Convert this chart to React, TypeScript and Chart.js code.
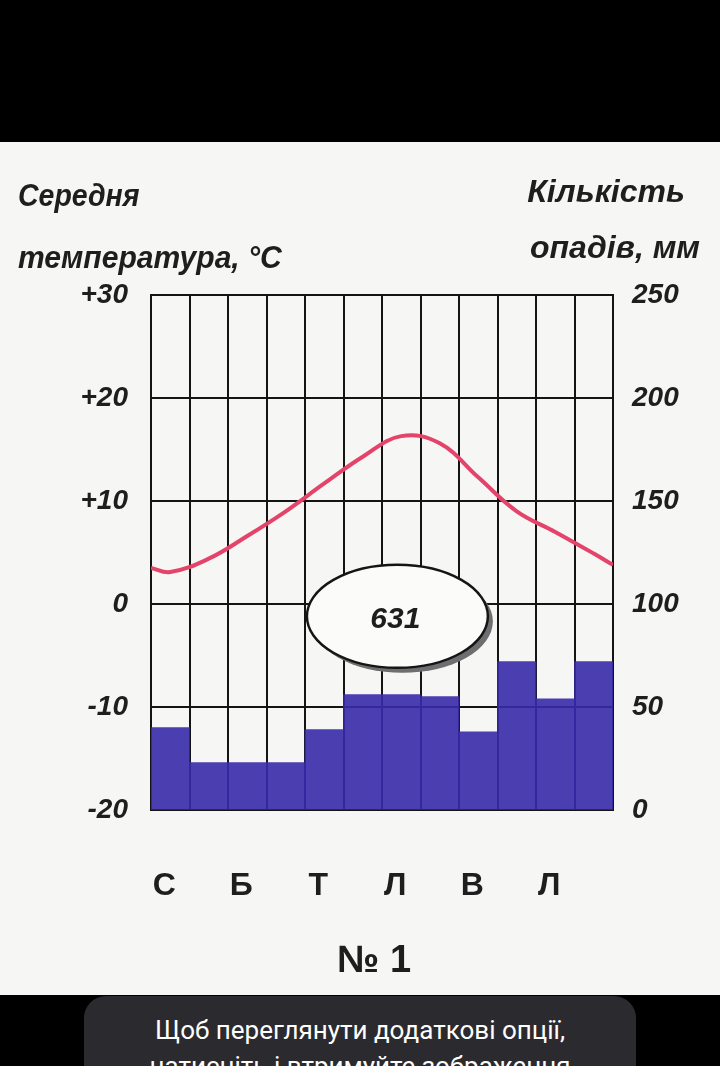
import React, { useEffect, useRef } from "react";
import { Chart, registerables } from "chart.js";

Chart.register(...registerables);

const months = ["С", "Л", "Б", "К", "Т", "Ч", "Л", "С", "В", "Ж", "Л", "Г"];
const precipitation = [40, 23, 23, 23, 39, 56, 56, 55, 38, 72, 54, 72];
const tempPositions = [0, 0.5, 1.5, 2.5, 3.5, 4.5, 5.5, 6.5, 7.5, 8.5, 9.5, 10.5, 11.5, 12];
const tempValues = [3.5, 3.1, 4.4, 6.6, 9.0, 11.7, 14.3, 16.3, 15.6, 12.3, 9.0, 7.0, 4.9, 3.8];
const tempTicks = [-20, -10, 0, 10, 20, 30];
const precipTicks = [0, 50, 100, 150, 200, 250];
const annualTotal = 631;

const FONT = "'Liberation Sans', 'DejaVu Sans', sans-serif";
const INK = "#1e1e1e";

const ellipsePlugin = {
  id: "totalEllipse",
  afterDatasetsDraw(chart: any) {
    const { ctx } = chart;
    const xs = chart.scales.x2;
    const ys = chart.scales.y;
    const cx = xs.getPixelForValue(6.4);
    const cy = ys.getPixelForValue(-1.2);
    const rx = xs.getPixelForValue(2.35) - xs.getPixelForValue(0);
    const ry = ys.getPixelForValue(0) - ys.getPixelForValue(5);
    ctx.save();
    ctx.beginPath();
    ctx.ellipse(cx + 5, cy + 5, rx, ry, 0, 0, Math.PI * 2);
    ctx.fillStyle = "#6e6e70";
    ctx.fill();
    ctx.beginPath();
    ctx.ellipse(cx, cy, rx, ry, 0, 0, Math.PI * 2);
    ctx.fillStyle = "#fbfbf9";
    ctx.fill();
    ctx.lineWidth = 2.5;
    ctx.strokeStyle = "#151515";
    ctx.stroke();
    ctx.fillStyle = INK;
    ctx.font = `italic bold 30px ${FONT}`;
    ctx.textAlign = "center";
    ctx.textBaseline = "middle";
    ctx.fillText(String(annualTotal), cx - 2, cy + 3);
    ctx.restore();
  },
};

export default function App() {
  const ref = useRef<HTMLCanvasElement>(null);

  useEffect(() => {
    if (!ref.current) return;
    const tickFont = { family: FONT, size: 28, weight: "bold" as const, style: "italic" as const };
    const chart = new Chart(ref.current, {
      type: "bar",
      data: {
        labels: months,
        datasets: [
          {
            type: "line" as any,
            label: "Температура",
            data: tempPositions.map((x, i) => ({ x, y: tempValues[i] })) as any,
            xAxisID: "x2",
            yAxisID: "y",
            borderColor: "#e4436a",
            borderWidth: 4,
            pointRadius: 0,
            tension: 0.4,
            order: 0,
          } as any,
          {
            type: "bar",
            label: "Опади",
            data: precipitation,
            xAxisID: "x",
            yAxisID: "y1",
            backgroundColor: "rgba(55, 42, 170, 0.9)",
            borderWidth: 0,
            barPercentage: 1,
            categoryPercentage: 1,
            grouped: false,
            order: 1,
          },
        ],
      },
      options: {
        responsive: false,
        animation: false,
        layout: { padding: { top: 153, left: 0, right: 0, bottom: 0 } },
        plugins: { legend: { display: false }, tooltip: { enabled: false } },
        scales: {
          x: {
            type: "category",
            offset: true,
            grid: { offset: true, color: "#141414", lineWidth: 2, drawTicks: false },
            border: { color: "#141414", width: 2 },
            ticks: {
              autoSkip: false,
              maxRotation: 0,
              callback: (_v: any, i: number) => (i % 2 === 0 ? months[i] : ""),
              font: { family: FONT, size: 32, weight: "bold" },
              color: INK,
              padding: 57,
              labelOffset: -6,
            },
            afterFit: (s: any) => {
              s.height = 185;
            },
          },
          x2: {
            type: "linear",
            min: 0,
            max: 12,
            offset: false,
            display: false,
            grid: { offset: false },
          },
          y: {
            position: "left",
            min: -20,
            max: 30,
            afterBuildTicks: (s: any) => {
              s.ticks = tempTicks.map((v) => ({ value: v }));
            },
            ticks: {
              callback: (v: any) => (Number(v) > 0 ? "+" + v : String(v)),
              font: tickFont,
              color: INK,
              padding: 23,
            },
            grid: { color: "#141414", lineWidth: 2, drawTicks: false },
            border: { color: "#141414", width: 2 },
            afterFit: (s: any) => {
              s.width = 151;
            },
          },
          y1: {
            position: "right",
            min: 0,
            max: 250,
            afterBuildTicks: (s: any) => {
              s.ticks = precipTicks.map((v) => ({ value: v }));
            },
            ticks: { font: tickFont, color: INK, padding: 19 },
            grid: { drawOnChartArea: false, drawTicks: false },
            border: { color: "#141414", width: 2 },
            afterFit: (s: any) => {
              s.width = 107;
            },
          },
        },
      } as any,
      plugins: [ellipsePlugin],
    });
    return () => chart.destroy();
  }, []);

  const title = (sx: number, origin: string): React.CSSProperties => ({
    position: "absolute",
    fontFamily: FONT,
    fontWeight: "bold",
    fontStyle: "italic",
    fontSize: 32,
    lineHeight: "36px",
    color: INK,
    whiteSpace: "nowrap",
    transform: `scaleX(${sx})`,
    transformOrigin: origin,
  });

  return (
    <div
      style={{
        position: "absolute",
        left: 0,
        top: 0,
        width: 720,
        height: 1066,
        overflow: "hidden",
        background: "#000",
      }}
    >
      <div
        style={{
          position: "absolute",
          left: 0,
          top: 142,
          width: 720,
          height: 853,
          background: "#f6f6f4",
        }}
      >
        <canvas ref={ref} width={720} height={853} style={{ width: 720, height: 853, display: "block" }} />
      </div>
      <div style={{ ...title(0.89, "left center"), left: 18, top: 177 }}>Середня</div>
      <div style={{ ...title(0.94, "left center"), left: 18, top: 239 }}>температура, °С</div>
      <div style={{ ...title(1, "right center"), right: 35, top: 173, textAlign: "right" }}>Кількість</div>
      <div style={{ ...title(1, "right center"), right: 20, top: 229, textAlign: "right" }}>опадів, мм</div>
      <div
        style={{
          position: "absolute",
          left: 0,
          width: 748,
          top: 937,
          textAlign: "center",
          fontFamily: FONT,
          fontWeight: "bold",
          fontSize: 38,
          lineHeight: "44px",
          color: INK,
        }}
      >
        № 1
      </div>
      <div
        style={{
          position: "absolute",
          left: 84,
          top: 996,
          width: 552,
          height: 120,
          borderRadius: 22,
          background: "#2b2b2f",
          color: "#fff",
          fontFamily: "Roboto, sans-serif",
          fontSize: 26,
          lineHeight: "36px",
          textAlign: "center",
          paddingTop: 16,
          boxSizing: "border-box",
        }}
      >
        Щоб переглянути додаткові опції,
        <br />
        натисніть і втримуйте зображення
      </div>
    </div>
  );
}
